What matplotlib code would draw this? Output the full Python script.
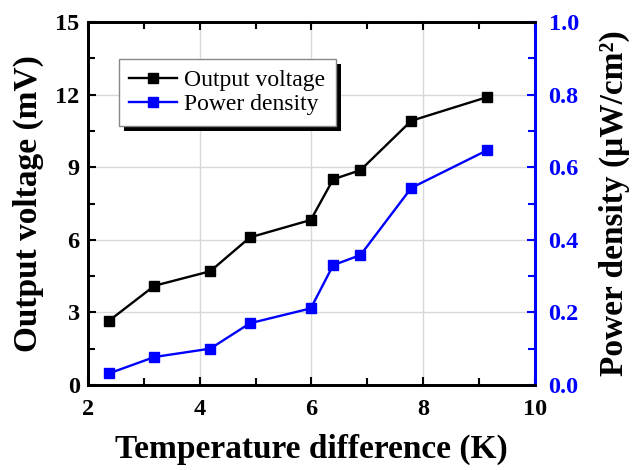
import matplotlib
matplotlib.use("Agg")
import matplotlib.pyplot as plt
from matplotlib.ticker import MultipleLocator
from matplotlib.patches import Rectangle

temp_diff = [2.38, 3.19, 4.19, 4.90, 5.99, 6.39, 6.88, 7.79, 9.15]
voltage = [2.66, 4.10, 4.70, 6.10, 6.82, 8.50, 8.88, 10.92, 11.90]
power = [0.032, 0.077, 0.100, 0.170, 0.211, 0.330, 0.358, 0.543, 0.647]
x_ticks = [2, 4, 6, 8, 10]
v_ticks = [0, 3, 6, 9, 12, 15]
p_ticks = [0.0, 0.2, 0.4, 0.6, 0.8, 1.0]

plt.rcParams['font.family'] = ['Liberation Serif', 'DejaVu Serif']
plt.rcParams['font.weight'] = 'bold'

fig = plt.figure(figsize=(6.4, 4.7), dpi=100)
ax = fig.add_axes([0.1375, 0.181, 0.698, 0.772])
ax2 = ax.twinx()

ax.grid(True, color='#d9d9d9', linewidth=1.0, zorder=0)
ax.set_axisbelow(True)

l1, = ax.plot(temp_diff, voltage, color='black', marker='s', markersize=6.5,
              linewidth=1.7, label='Output voltage', zorder=3)
l2, = ax2.plot(temp_diff, power, color='blue', marker='s', markersize=6.5,
               linewidth=1.7, label='Power density', zorder=3)

ax.set_xlim(2, 10)
ax.set_ylim(0, 15)
ax2.set_ylim(0, 1.0)
ax.set_xticks(x_ticks)
ax.set_xticklabels([str(v) for v in x_ticks])
ax.xaxis.set_minor_locator(MultipleLocator(1))
ax.set_yticks(v_ticks)
ax.set_yticklabels([str(v) for v in v_ticks])
ax.yaxis.set_minor_locator(MultipleLocator(1.5))
ax2.set_yticks(p_ticks)
ax2.set_yticklabels([f'{v:.1f}' for v in p_ticks])
ax2.yaxis.set_minor_locator(MultipleLocator(0.1))

for s in ['left', 'top', 'bottom']:
    ax.spines[s].set_linewidth(2)
    ax2.spines[s].set_linewidth(2)
ax2.spines['right'].set_linewidth(2.2)
ax2.spines['right'].set_color('blue')
ax.spines['right'].set_visible(False)

ax.tick_params(axis='x', which='both', direction='in', top=True, width=1.5,
               labelsize=17.5, pad=10)
ax.tick_params(axis='x', which='major', length=6)
ax.tick_params(axis='x', which='minor', length=5)
ax.tick_params(axis='y', which='both', direction='in', left=True, right=False,
               width=1.5, labelsize=17.5, pad=6)
ax.tick_params(axis='y', which='major', length=6)
ax.tick_params(axis='y', which='minor', length=5)
ax2.tick_params(axis='y', which='both', direction='in', colors='blue',
                width=1.5, labelsize=17.5, pad=10)
ax2.tick_params(axis='y', which='major', length=6)
ax2.tick_params(axis='y', which='minor', length=5)

ax.set_xlabel('Temperature difference (K)', fontsize=24, fontweight='bold', labelpad=10)
ax.set_ylabel('Output voltage (mV)', fontsize=24, fontweight='bold', labelpad=8)
ax2.set_ylabel('Power density (μW/cm²)', fontsize=24, fontweight='bold', labelpad=14)

leg = ax2.legend(handles=[l1, l2], loc='upper left', bbox_to_anchor=(0.069, 0.898),
                 borderaxespad=0, prop={'weight': 'normal', 'size': 17},
                 frameon=True, fancybox=False, edgecolor='#888888',
                 handlelength=2.0, handletextpad=0.3, borderpad=0.45, labelspacing=0.1)
leg.get_frame().set_linewidth(1.0)
leg.get_frame().set_alpha(1.0)
leg.set_zorder(5)

fig.canvas.draw()
bb = leg.get_window_extent()
shadow = Rectangle((bb.x0 + 5, bb.y0 - 5), bb.width, bb.height, transform=None,
                   facecolor='black', edgecolor='none', zorder=4.5, clip_on=False)
ax2.add_artist(shadow)

fig.savefig('out.png', dpi=100)
